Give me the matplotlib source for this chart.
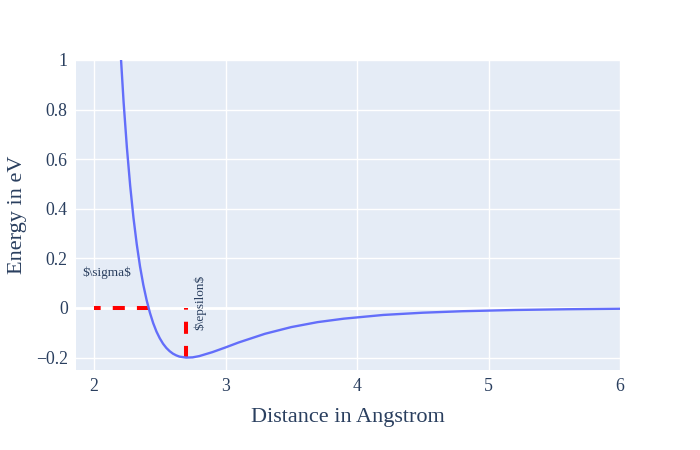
import matplotlib
matplotlib.use("Agg")
import matplotlib.pyplot as plt

# distance (Angstrom) and energy (eV)
distance = [2.15, 2.175, 2.2, 2.225, 2.25, 2.275, 2.3, 2.325, 2.35, 2.375,
            2.4, 2.425, 2.45, 2.475, 2.5, 2.525, 2.55, 2.575, 2.6, 2.625,
            2.65, 2.7, 2.75, 2.8, 2.9, 3.0, 3.1, 3.3, 3.5, 3.7, 3.9, 4.2,
            4.5, 4.8, 5.2, 5.6, 6.0]
energy = [1.619, 1.309, 1.049, 0.830, 0.647, 0.493, 0.364, 0.257, 0.167,
          0.093, 0.032, -0.019, -0.061, -0.095, -0.122, -0.144, -0.161,
          -0.174, -0.184, -0.191, -0.196, -0.200, -0.199, -0.194, -0.178,
          -0.159, -0.139, -0.104, -0.077, -0.057, -0.043, -0.028, -0.019,
          -0.013, -0.008, -0.005, -0.003]

sigma = 2.42
epsilon = 0.2
r_min = 2.70

xticks = [2, 3, 4, 5, 6]
yticks = [-0.2, 0, 0.2, 0.4, 0.6, 0.8, 1]
ytick_labels = ["\u22120.2", "0", "0.2", "0.4", "0.6", "0.8", "1"]

plt.rcParams['font.family'] = ['Liberation Serif', 'DejaVu Serif']
text_color = '#2a3f5f'

fig = plt.figure(figsize=(7, 4.5), dpi=100)
ax = fig.add_axes([76 / 700, 80 / 450, 544 / 700, 310 / 450])
ax.set_facecolor('#E5ECF6')
for s in ax.spines.values():
    s.set_visible(False)

ax.set_xticks(xticks)
ax.set_yticks(yticks)
ax.set_yticklabels(ytick_labels)
ax.grid(True, color='white', linewidth=1)
ax.axhline(0, color='white', linewidth=2, zorder=1)
ax.set_axisbelow(True)
ax.tick_params(length=0, labelsize=12.8, colors=text_color, pad=6)

ax.plot(distance, energy, color='#636EFA', linewidth=1.7, zorder=3,
        solid_joinstyle='round')

# red guide lines for sigma and epsilon (drawn from the curve outwards)
ax.plot([sigma, 2], [0, 0], color='red', linewidth=2.9, dashes=(3, 3), zorder=2)
ax.plot([r_min, r_min], [-epsilon, 0], color='red', linewidth=2.9, dashes=(3, 3), zorder=2)

ax.text(2.10, 0.141, '$\\sigma$', fontsize=9.5, color=text_color,
        ha='center', va='center', parse_math=False)
ax.text(2.806, 0.024, '$\\epsilon$', fontsize=9.5, color=text_color,
        rotation=90, ha='center', va='center', parse_math=False)

ax.set_xlim(1.863, 6)
ax.set_ylim(-0.25, 1)
ax.set_xlabel('Distance in Angstrom', fontsize=16, color=text_color, labelpad=9)
ax.set_ylabel('Energy in eV', fontsize=16, color=text_color, labelpad=6)

fig.savefig('out.png', dpi=100)
